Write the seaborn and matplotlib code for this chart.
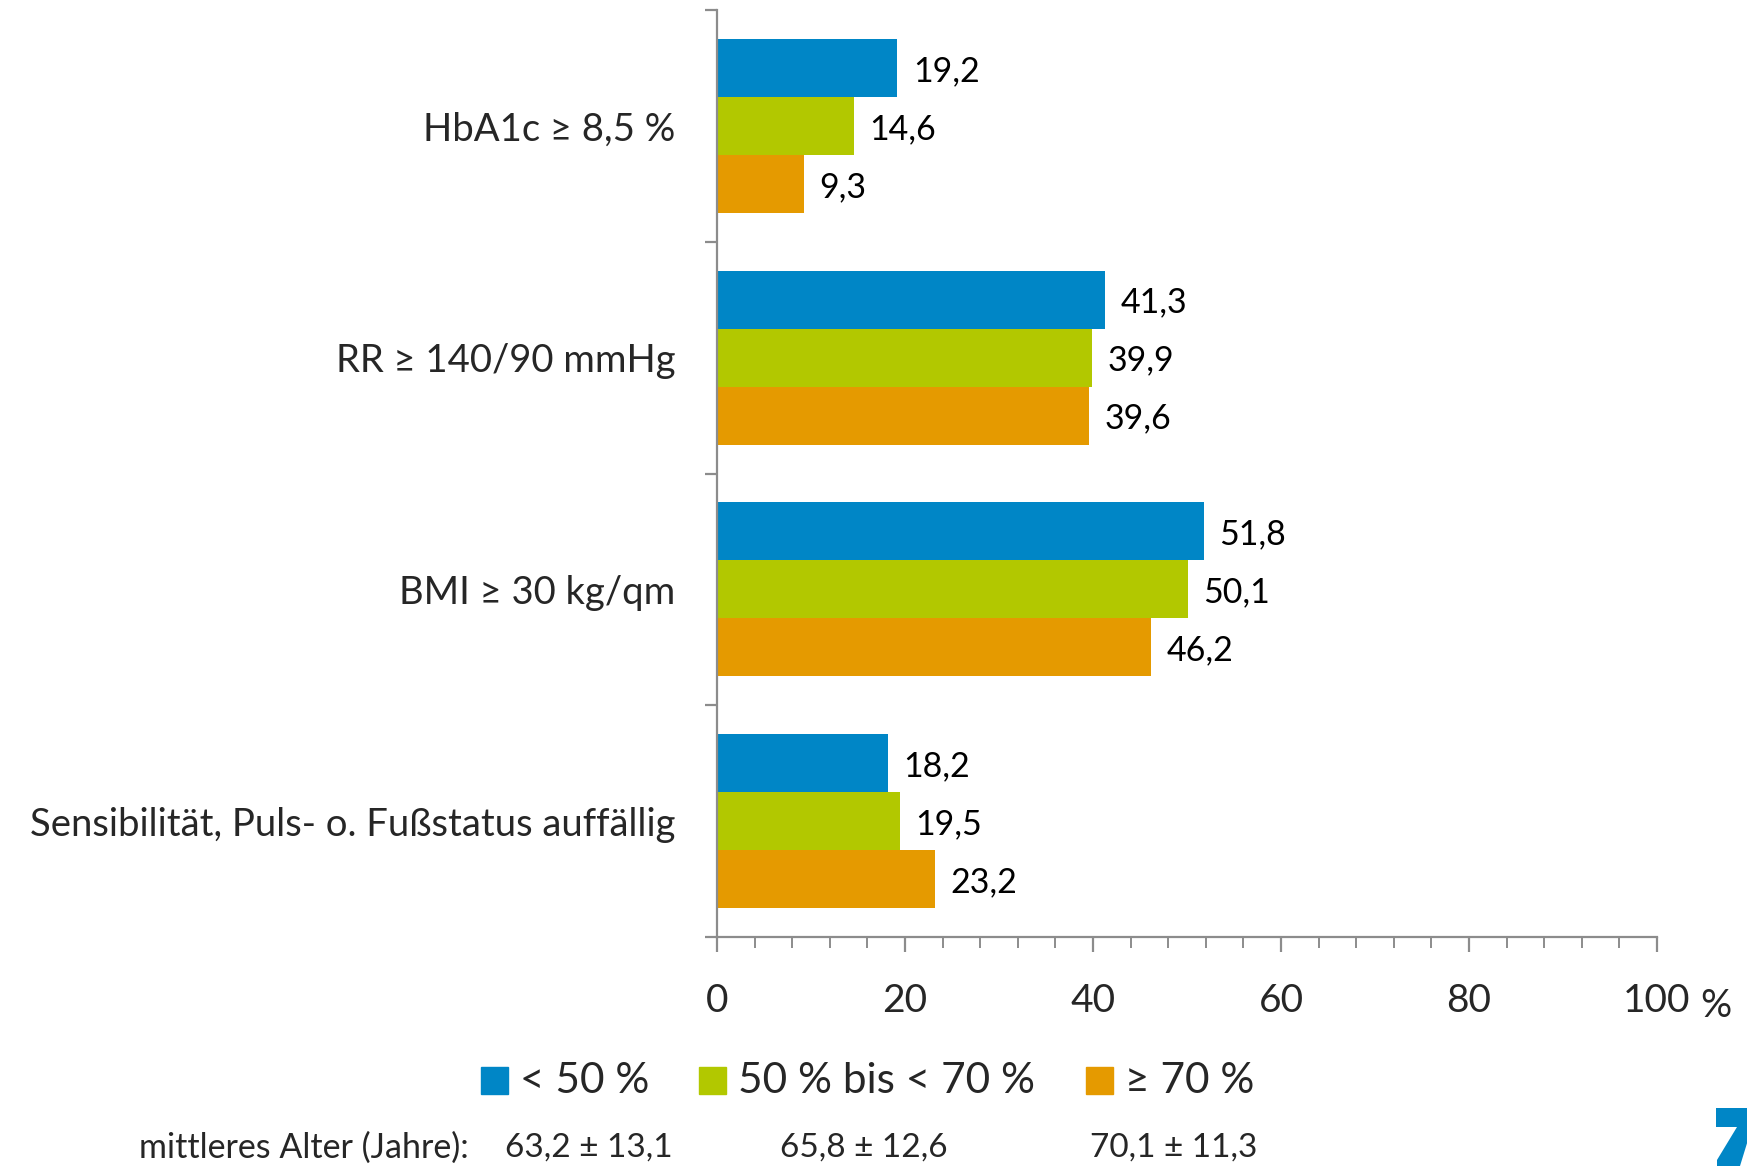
import matplotlib
matplotlib.use("Agg")
import matplotlib.pyplot as plt
import seaborn as sns
import pandas as pd
from matplotlib.ticker import MultipleLocator, FixedLocator
from matplotlib.patches import Rectangle, Polygon

categories = ["HbA1c ≥ 8,5 %", "RR ≥ 140/90 mmHg", "BMI ≥ 30 kg/qm",
              "Sensibilität, Puls- o. Fußstatus auffällig"]
groups = ["< 50 %", "50 % bis < 70 %", "≥ 70 %"]
vals_lt50 = [19.2, 41.3, 51.8, 18.2]
vals_50_70 = [14.6, 39.9, 50.1, 19.5]
vals_ge70 = [9.3, 39.6, 46.2, 23.2]
ages = ["63,2 ± 13,1", "65,8 ± 12,6", "70,1 ± 11,3"]
age_label = "mittleres Alter (Jahre):"
x_ticks = [0, 20, 40, 60, 80, 100]
colors = ["#0086C6", "#B2C800", "#E59A00"]

df = pd.DataFrame({
    "cat": categories * 3,
    "grp": [groups[0]] * 4 + [groups[1]] * 4 + [groups[2]] * 4,
    "val": vals_lt50 + vals_50_70 + vals_ge70,
})

sns.set_theme(style="white")
FONT = ["Lato", "DejaVu Sans"]
plt.rcParams["font.family"] = FONT

W, H = 1747, 1166
fig = plt.figure(figsize=(W / 100, H / 100), dpi=100)
ax = fig.add_axes([717 / W, 1 - 937 / H, (1657 - 717) / W, (937 - 10) / H])

sns.barplot(data=df, y="cat", x="val", hue="grp", order=categories,
            hue_order=groups, palette=colors, orient="h", width=0.75,
            gap=0, saturation=1, ax=ax, legend=False, linewidth=0)

for cont in ax.containers:
    labels = [f"{v:.1f}".replace(".", ",") for v in cont.datavalues]
    texts = ax.bar_label(cont, labels=labels, padding=11, fontsize=24.5,
                         color="black")
    for t in texts:
        t.set_va("center_baseline")

ax.set_xlim(0, 100)
ax.set_ylim(3.5, -0.5)
ax.set_xlabel("")
ax.set_ylabel("")
gray = "#8c8c8c"
for s in ["top", "right"]:
    ax.spines[s].set_visible(False)
for s in ["left", "bottom"]:
    ax.spines[s].set_color(gray)
    ax.spines[s].set_linewidth(1.6)

ax.xaxis.set_major_locator(FixedLocator(x_ticks))
ax.set_xticklabels([str(t) for t in x_ticks])
ax.xaxis.set_minor_locator(MultipleLocator(4))
ax.tick_params(axis="x", which="major", direction="out", length=11, width=1.6,
               color=gray, labelsize=28, pad=22, bottom=True)
ax.tick_params(axis="x", which="minor", direction="out", length=8, width=1.4,
               color=gray, bottom=True)
fig.text(1700 / W, 1 - 1006 / H, "%", fontsize=28, ha="left", va="center")
ax.set_yticks(range(len(categories)))
ax.set_yticklabels(categories)
ax.yaxis.set_minor_locator(FixedLocator([-0.5, 0.5, 1.5, 2.5, 3.5]))
ax.tick_params(axis="y", which="major", length=0, labelsize=27.5, pad=30, left=False)
ax.tick_params(axis="y", which="minor", direction="out", length=9, width=1.6,
               color=gray, left=True)
ax.grid(False)

# legend
sq = 27
legend_items = [(481, groups[0]), (699, groups[1]), (1086, groups[2])]
for (xpx, lab), c in zip(legend_items, colors):
    fig.patches.append(Rectangle((xpx / W, 1 - 1094 / H), sq / W, sq / H,
                                 transform=fig.transFigure, color=c))
    fig.text((xpx + sq + 12) / W, 1 - 1081 / H, lab, fontsize=30.5,
             ha="left", va="center")

fig.text(139 / W, 1 - 1148 / H, age_label, fontsize=24.5, ha="left", va="center")
for xpx, a in zip([505, 780, 1090], ages):
    fig.text(xpx / W, 1 - 1148 / H, a, fontsize=24, ha="left", va="center")

# partial logo (graphic) at bottom-right corner
logo_pts = [(1716, 1108), (1752, 1108), (1752, 1127), (1740, 1166),
            (1717, 1166), (1717, 1160), (1737, 1127), (1716, 1127)]
fig.patches.append(Polygon([(x / W, 1 - y / H) for x, y in logo_pts],
                           closed=True, transform=fig.transFigure,
                           color=colors[0], linewidth=0))

fig.savefig("out.png", dpi=100)
